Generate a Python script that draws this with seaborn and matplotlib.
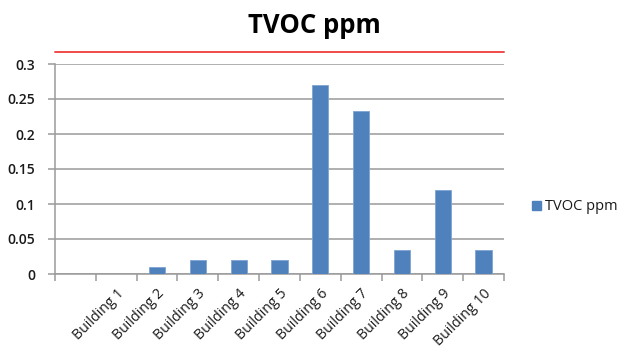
import matplotlib
matplotlib.use("Agg")
import matplotlib.pyplot as plt
import matplotlib.patches as mpatches
import numpy as np
import pandas as pd
import seaborn as sns

# Data
buildings = ["Building 1", "Building 2", "Building 3", "Building 4", "Building 5",
             "Building 6", "Building 7", "Building 8", "Building 9", "Building 10"]
tvoc_ppm = [0.0, 0.01, 0.02, 0.02, 0.02, 0.27, 0.233, 0.035, 0.12, 0.035]
y_ticks = [0, 0.05, 0.1, 0.15, 0.2, 0.25, 0.3]
limit_ppm = 0.317
series_name = "TVOC ppm"

sns.set_theme(style="white")
plt.rcParams["font.family"] = ["Open Sans", "DejaVu Sans"]

bar_color = "#4F81BD"
grid_color = "#9a9a9a"
text_color = "#1a1a1a"

df = pd.DataFrame({"building": buildings, "tvoc": tvoc_ppm})

fig = plt.figure(figsize=(6.19, 3.51), dpi=100)
ax = fig.add_axes([55 / 619, 1 - 274 / 351, (504 - 55) / 619, (274 - 64) / 351])

sns.barplot(data=df, x="building", y="tvoc", color=bar_color, width=0.4,
            saturation=1, edgecolor="#7fa3d3", linewidth=0.6, ax=ax, zorder=3)

ax.set_xlim(-1.5, len(buildings) - 0.5)
ax.set_ylim(0, 0.3)
ax.set_yticks(y_ticks)
ax.set_yticklabels([f"{v:g}" for v in y_ticks])
ax.set_xlabel("")
ax.set_ylabel("")

# horizontal gridlines
ax.yaxis.grid(True, color=grid_color, linewidth=1.1, zorder=0)
ax.set_axisbelow(True)

for side in ["top", "right"]:
    ax.spines[side].set_visible(False)
for side in ["left", "bottom"]:
    ax.spines[side].set_color(grid_color)
    ax.spines[side].set_linewidth(1.1)

# category boundary ticks on the x axis
ax.set_xticks(np.arange(-1.5, len(buildings), 1.0), minor=True)
ax.tick_params(axis="x", which="minor", length=5, width=1.1, color=grid_color, bottom=True)
ax.tick_params(axis="x", which="major", length=0, pad=9, labelsize=10.2, labelcolor=text_color)
ax.tick_params(axis="y", which="major", length=5, width=1.1, color=grid_color, left=True,
               pad=9, labelsize=10, labelcolor=text_color)
for lbl in ax.get_xticklabels():
    lbl.set_rotation(45)
    lbl.set_ha("right")
    lbl.set_va("top")
    lbl.set_rotation_mode("anchor")
for lbl in ax.get_yticklabels():
    lbl.set_fontweight("semibold")

# limit line above the plot
ax.axhline(limit_ppm, color="#f04a4a", linewidth=1.4, clip_on=False, zorder=4)

fig.text(314 / 619, 1 - 33 / 351, "TVOC ppm", ha="center", va="baseline",
         fontsize=18.5, fontweight="bold", color="black")

handle = mpatches.Patch(facecolor=bar_color, edgecolor=bar_color)
fig.legend([handle], [series_name], loc="center left",
           bbox_to_anchor=(519 / 619, 1 - 207 / 351), frameon=False,
           fontsize=10.5, handlelength=0.6, handleheight=0.6, handletextpad=0.3,
           labelcolor=text_color)

fig.savefig("out.png", dpi=100, facecolor="white")
